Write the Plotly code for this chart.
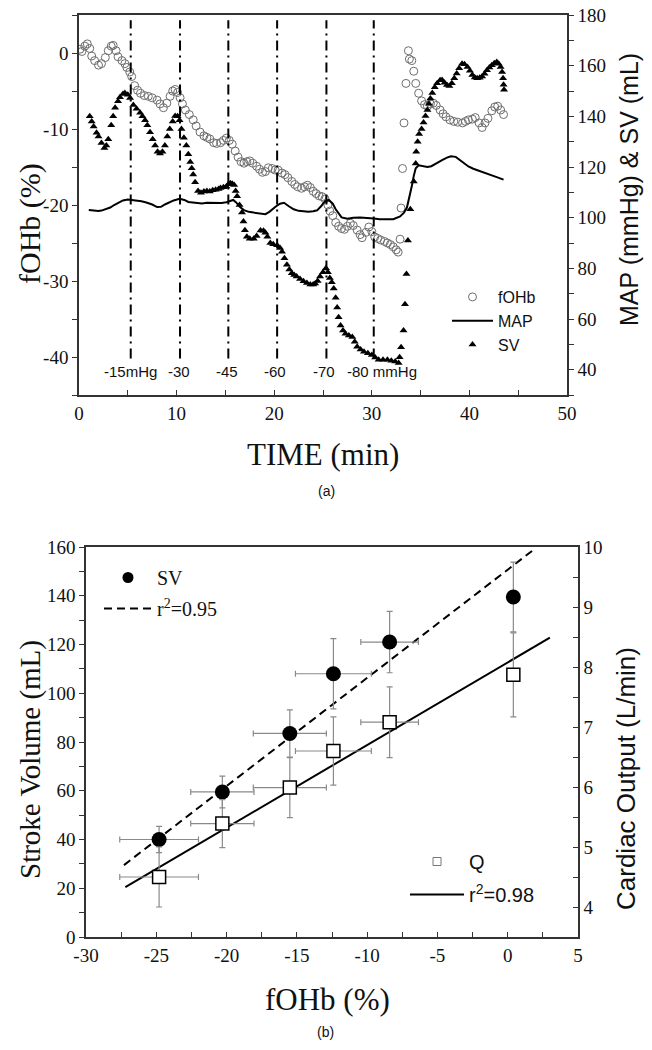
import plotly.graph_objects as go

# ---------------- DATA: panel (a) ----------------
fohb_t = [0.1, 0.3, 0.6, 0.85, 1.1, 1.3, 1.6, 2.0, 2.3, 2.7, 3.0, 3.3, 3.5, 3.8, 4.0, 4.4, 4.7, 4.9,
          5.2, 5.4, 5.7, 6.0, 6.3, 6.7, 7.1, 7.5, 8.0, 8.3, 8.65, 9.0, 9.33, 9.6, 9.85, 10.1, 10.36,
          10.6, 10.9, 11.3, 11.7, 12.0, 12.4, 12.8, 13.1, 13.4, 13.8, 14.1, 14.5, 14.8, 15.1, 15.4,
          15.7, 16.0, 16.3, 16.6, 16.9, 17.2, 17.5, 17.8, 18.2, 18.5, 18.8, 19.1, 19.4, 19.8, 20.1,
          20.4, 20.8, 21.1, 21.4, 21.8, 22.1, 22.4, 22.8, 23.1, 23.4, 23.7, 24.0, 24.3, 24.6, 24.9,
          25.2, 25.5, 25.7, 26.0, 26.3, 26.6, 26.9, 27.2, 27.5, 27.8, 28.1, 28.5, 28.8, 29.0, 29.4,
          29.7, 30.0, 30.3, 30.6, 30.9, 31.3, 31.6, 31.9, 32.2, 32.5, 32.7,
          32.9, 33.0, 33.15, 33.3, 33.5, 33.75, 33.85, 34.1, 34.3, 34.5, 34.8, 35.1, 35.4, 35.7,
          36.0, 36.3, 36.6, 37.0, 37.3, 37.6, 38.0, 38.4, 38.8, 39.3, 39.6, 39.9, 40.3, 40.6, 41.0,
          41.3, 41.6, 41.9, 42.3, 42.6, 42.9, 43.2, 43.5]
fohb_v = [0.5, 0.2, 0.9, 1.2, 0.6, -0.4, -1.0, -1.6, -1.4, -0.6, 0.3, 0.9, 1.0, 0.3, -0.5, -1.0, -1.4, -1.9,
          -2.5, -3.1, -4.3, -4.9, -5.3, -5.6, -5.7, -5.9, -6.2, -6.7, -7.2, -6.6, -5.7, -5.0, -4.8, -5.2, -5.9,
          -6.7, -7.5, -8.1, -8.8, -9.6, -10.4, -10.9, -11.1, -11.3, -11.8, -11.9, -11.8, -11.5, -11.2, -11.5,
          -12.0, -12.9, -13.7, -14.3, -14.5, -14.3, -14.2, -14.5, -14.9, -15.3, -15.7, -15.6, -15.1, -15.2, -15.4,
          -15.4, -15.8, -16.0, -16.4, -16.9, -17.3, -17.6, -17.8, -17.6, -17.4, -17.7, -18.2, -18.5, -18.8, -18.9,
          -19.2, -20.0, -20.8, -21.4, -22.3, -22.8, -23.1, -23.2, -22.8, -22.4, -22.7, -23.3, -23.9, -24.3, -23.6,
          -22.9, -23.5, -24.2, -24.4, -24.6, -24.8, -25.0, -25.2, -25.5, -25.9, -26.2,
          -24.5, -20.4, -15.2, -9.2, -4.0, 0.3, -0.8, -1.0, -2.4, -4.0, -5.3, -6.3, -6.8, -7.0,
          -6.7, -6.6, -6.9, -7.5, -8.0, -8.4, -8.8, -9.0, -9.1, -9.2, -9.0, -8.8, -8.7, -8.5, -9.2,
          -9.8, -9.2, -8.6, -7.6, -7.1, -7.0, -7.5, -8.1]

map_t = [1.0, 1.3, 1.7, 2.0, 2.3, 2.7, 3.2, 3.6, 4.0, 4.5, 5.0, 5.5, 6.0, 6.4, 6.9, 7.5, 8.0, 8.4, 8.8,
         9.2, 9.7, 10.3, 10.8, 11.2, 11.7, 12.2, 12.6, 13.1, 13.6, 14.1, 14.6, 15.1, 15.5, 15.8, 16.1,
         16.5, 16.9, 17.4, 17.9, 18.5, 19.1, 19.5, 19.8, 20.2, 20.6, 21.0, 21.5, 22.0, 22.5, 23.0, 23.5,
         24.0, 24.4, 24.8, 25.2, 25.6, 26.0, 26.3, 26.6, 26.9, 27.5, 28.1, 28.8, 29.5, 30.2, 30.8, 31.5,
         32.2, 32.9, 33.3, 33.6, 33.85, 34.1, 34.3, 34.5, 34.8, 35.2, 35.7, 36.1, 36.6, 37.2, 37.7, 38.1,
         38.6, 39.0, 39.4, 39.9, 40.4, 40.8, 41.5, 42.2, 42.8, 43.5]
map_v = [103.0, 102.8, 102.5, 102.6, 102.8, 103.2, 104.0, 105.0, 105.9, 106.8, 107.2, 107.0, 106.8, 106.5,
         106.0, 105.2, 104.2, 104.3, 105.2, 105.9, 106.8, 107.5, 107.0, 106.2, 105.9, 105.6, 105.6, 105.9,
         105.8, 105.7, 105.8, 106.1, 106.8, 107.0, 106.0, 104.2, 103.0, 102.3, 102.0, 101.6, 101.4, 102.3,
         103.3, 104.5, 105.5, 105.9, 104.5, 103.3, 102.7, 102.4, 102.3, 102.5, 102.9, 104.5, 106.5, 107.0,
         105.5, 103.3, 101.5, 100.1, 99.6, 100.0, 100.1, 100.0, 99.7, 99.4, 99.3, 99.4, 100.5, 102.0, 104.0,
         108.0, 112.5, 116.5, 119.5, 120.7, 120.5, 120.0, 120.3, 121.5, 122.7, 123.7, 124.2, 124.0, 122.8,
         121.4, 120.2, 119.3, 118.8, 117.9, 116.9, 116.0, 115.0]

sv_t = [1.1, 1.3, 1.5, 1.8, 2.0, 2.3, 2.6, 2.8, 3.0, 3.3, 3.5, 3.7, 4.0, 4.2, 4.5, 4.7, 5.0, 5.23, 5.57,
        5.9, 6.26, 6.5, 6.77, 7.0, 7.28, 7.55, 7.8, 8.05, 8.3, 8.55, 8.8, 9.05, 9.3, 9.6, 9.85, 10.1, 10.3,
        10.5, 10.75, 11.0, 11.2, 11.4, 11.55, 11.7, 11.9, 12.2, 12.5, 12.8, 13.1, 13.4, 13.7, 14.0, 14.3,
        14.5, 14.8, 15.1, 15.3, 15.5, 15.7, 15.9, 16.05, 16.2, 16.45, 16.7, 16.85, 17.0, 17.2, 17.5, 17.9,
        18.2, 18.6, 18.9, 19.1, 19.3, 19.6, 19.9, 20.3, 20.6, 20.8, 21.05, 21.3, 21.55, 21.8, 22.05, 22.3,
        22.65, 23.0, 23.35, 23.7, 24.0, 24.2, 24.45, 24.7, 25.0, 25.3, 25.5, 25.7, 25.9, 26.1, 26.3, 26.45,
        26.6, 26.8, 27.05, 27.3, 27.65, 28.0, 28.25, 28.5, 28.85, 29.2, 29.6, 30.0, 30.35, 30.7, 31.15,
        31.6, 32.0, 32.4, 32.75,
        32.85, 33.0, 33.25, 33.4, 33.55, 33.7, 33.95, 34.3, 34.5, 34.55, 34.7, 34.85, 35.1, 35.3, 35.5,
        35.7, 35.85, 36.0, 36.2, 36.45, 36.7, 37.0, 37.2, 37.45, 37.7, 37.95, 38.2, 38.45, 38.7, 38.95,
        39.25, 39.5, 39.8, 40.05, 40.3, 40.55, 40.8, 41.05, 41.3, 41.55, 41.8, 42.05, 42.3, 42.55, 42.8,
        43.0, 43.2, 43.35, 43.45, 43.5, 43.55]
sv_v = [140.0, 138.0, 136.0, 133.5, 132.0, 129.5, 127.5, 128.5, 131.0, 136.5, 140.0, 143.4, 146.0, 147.5,
        148.8, 149.2, 148.5, 147.2, 144.5, 143.0, 141.4, 140.0, 138.5, 136.5, 133.7, 131.0, 128.5, 126.0,
        125.3, 126.0, 128.5, 132.0, 135.0, 138.0, 140.1, 140.0, 138.5, 135.0, 131.5, 128.5, 125.0, 122.0,
        119.5, 117.0, 114.0, 110.5, 109.8, 110.3, 110.5, 110.3, 110.8, 111.0, 111.3, 111.7, 112.0, 112.3,
        113.2, 113.6, 113.4, 112.9, 110.5, 108.5, 105.0, 102.0, 98.5, 95.0, 92.5, 91.7, 91.7, 92.8, 94.9,
        94.8, 94.0, 92.5, 90.0, 89.5, 89.1, 88.0, 86.5, 84.0, 81.4, 79.5, 78.1, 77.4, 76.8, 75.8, 74.9,
        74.2, 73.6, 73.6, 74.0, 75.0, 76.8, 78.5, 80.0, 78.5, 76.2, 74.5, 72.0, 68.4, 64.5, 60.7, 57.4,
        55.5, 54.2, 53.5, 52.9, 51.0, 49.0, 48.0, 47.1, 46.5, 45.8, 44.8, 43.9, 43.9, 43.9, 43.5, 43.2, 42.6,
        44.9, 48.8, 55.5, 65.8, 77.8, 91.0, 103.3, 114.3, 121.4, 126.0, 130.0, 133.0, 135.0, 137.6, 140.1,
        142.5, 145.0, 147.0, 149.2, 151.5, 153.1, 154.2, 154.3, 153.3, 152.4, 152.0, 153.1, 155.0, 156.9,
        159.0, 160.8, 160.6, 159.5, 158.0, 156.3, 155.3, 155.0, 155.2, 155.7, 156.8, 158.2, 159.3, 160.2,
        161.0, 161.4, 160.8, 159.5, 157.5, 155.0, 152.5, 150.5]

pressure_t = [5.3, 10.35, 15.3, 20.3, 25.35, 30.2]
pressure_label_t = [5.3, 10.25, 15.2, 20.1, 25.1, 31.0]
pressure_labels = ["-15mHg", "-30", "-45", "-60", "-70", "-80 mmHg"]

time_ticks = [0, 10, 20, 30, 40, 50]
time_tick_text = ["0", "10", "20", "30", "40", "50"]
fohb_ticks = [0, -10, -20, -30, -40]
fohb_tick_text = ["0", "-10", "-20", "-30", "-40"]

# ---------------- DATA: panel (b) ----------------
fohb_mean = [-24.8, -20.3, -15.5, -12.4, -8.4, 0.4]
fohb_err = [2.8, 2.25, 2.6, 2.7, 2.05, 0.0]
sv_mean = [40.0, 59.5, 83.5, 108.0, 121.0, 139.5]
sv_err = [5.4, 6.5, 9.7, 14.4, 12.6, 14.3]
q_mean = [4.5, 5.39, 5.99, 6.6, 7.08, 7.87]
q_err = [0.5, 0.4, 0.5, 0.57, 0.59, 0.7]
sv_fit_x = [-27.3, 1.8]
sv_fit_y = [29.5, 158.7]
q_fit_x = [-27.2, 3.0]
q_fit_y = [4.33, 8.49]

b_x_ticks = [-30, -25, -20, -15, -10, -5, 0, 5]
b_x_tick_text = ["-30", "-25", "-20", "-15", "-10", "-5", "0", "5"]

# ---------------- LAYOUT HELPERS ----------------
# the page body has an 8px margin: the figure is sized to fit the window inside it
OFF = 8
W, H = 652 - 2 * OFF, 1050 - 2 * OFF
def fx(px):
    return (px - OFF) / W
def fy(py):
    return 1 - (py - OFF) / H

SERIF = "Liberation Serif"
SANS = "Liberation Sans"
AX = "#333333"
ERR = "#8a8a8a"

fig = go.Figure()

# panel (a)
fig.add_trace(go.Scatter(x=fohb_t, y=fohb_v, mode="markers", name="fOHb",
                         marker=dict(symbol="circle-open", size=8, color="#6e6e6e", line=dict(width=1)),
                         xaxis="x", yaxis="y", legend="legend", legendgroup="a1"))
fig.add_trace(go.Scatter(x=map_t, y=map_v, mode="lines", name="MAP",
                         line=dict(color="black", width=2),
                         xaxis="x", yaxis="y2", legend="legend", legendgroup="a2"))
fig.add_trace(go.Scatter(x=sv_t, y=sv_v, mode="markers", name="SV",
                         marker=dict(symbol="triangle-up", size=7, color="black"),
                         xaxis="x", yaxis="y2", legend="legend", legendgroup="a3"))

# panel (b)
fig.add_trace(go.Scatter(x=sv_fit_x, y=sv_fit_y, mode="lines", showlegend=False,
                         line=dict(color="black", width=2, dash="8px,5px"),
                         xaxis="x2", yaxis="y3"))
fig.add_trace(go.Scatter(x=q_fit_x, y=q_fit_y, mode="lines", showlegend=False,
                         line=dict(color="black", width=2),
                         xaxis="x2", yaxis="y4"))
fig.add_trace(go.Scatter(x=fohb_mean, y=sv_mean, mode="markers", showlegend=False,
                         marker=dict(symbol="circle", size=15, color="black"),
                         error_x=dict(type="data", array=fohb_err, color=ERR, thickness=1.2, width=3),
                         error_y=dict(type="data", array=sv_err, color=ERR, thickness=1.2, width=3),
                         xaxis="x2", yaxis="y3"))
fig.add_trace(go.Scatter(x=fohb_mean, y=q_mean, mode="markers", showlegend=False,
                         marker=dict(symbol="square", size=13, color="white", line=dict(color="black", width=1.5)),
                         error_x=dict(type="data", array=fohb_err, color=ERR, thickness=1.2, width=3),
                         error_y=dict(type="data", array=q_err, color=ERR, thickness=1.2, width=3),
                         xaxis="x2", yaxis="y4"))

# legend proxies for panel (b)
fig.add_trace(go.Scatter(x=[None], y=[None], mode="markers", name="SV",
                         marker=dict(symbol="circle", size=11, color="black"),
                         xaxis="x2", yaxis="y3", legend="legend2", legendgroup="b1"))
fig.add_trace(go.Scatter(x=[None], y=[None], mode="lines", name="r<sup>2</sup>=0.95",
                         line=dict(color="black", width=2, dash="8px,5px"),
                         xaxis="x2", yaxis="y3", legend="legend2", legendgroup="b2"))
fig.add_trace(go.Scatter(x=[None], y=[None], mode="markers", name="Q",
                         marker=dict(symbol="square-open", size=8, color="#777777", line=dict(width=1)),
                         xaxis="x2", yaxis="y4", legend="legend3", legendgroup="c1"))
fig.add_trace(go.Scatter(x=[None], y=[None], mode="lines", name="r<sup>2</sup>=0.98",
                         line=dict(color="black", width=2),
                         xaxis="x2", yaxis="y4", legend="legend3", legendgroup="c2"))

tickfont = dict(family=SERIF, size=19, color="#111")
common = dict(showgrid=False, zeroline=False, showline=True, linecolor=AX, linewidth=1.5,
              tickcolor=AX, tickwidth=1.3, ticklen=5, tickfont=tickfont, automargin=False,
              ticklabeloverflow="allow")

shapes = []
for t in pressure_t:
    shapes.append(dict(type="line", xref="x", yref="y", x0=t, x1=t, y0=-40.2, y1=4.3,
                       line=dict(color="black", width=2, dash="10px,5px,2px,5px")))

annotations = []
for t, lab in zip(pressure_label_t, pressure_labels):
    annotations.append(dict(x=t, y=-41.9, xref="x", yref="y", text=lab, showarrow=False,
                            font=dict(family=SANS, size=15, color="#111")))

def title(text, x, y, fam, size, angle=0):
    return dict(x=fx(x), y=fy(y), xref="paper", yref="paper", text=text, showarrow=False,
                textangle=angle, font=dict(family=fam, size=size, color="#111"),
                xanchor="center", yanchor="middle", borderpad=0)

annotations += [
    title("fOHb (%)", 30, 224, SERIF, 30, -90),
    title("MAP (mmHg) &amp; SV (mL)", 629, 190, SANS, 25, -90),
    title("TIME (min)", 323, 455, SERIF, 31),
    title("(a)", 326, 491, SANS, 14),
    title("Stroke Volume (mL)", 30, 760, SERIF, 29, -90),
    title("Cardiac Output (L/min)", 626, 779, SANS, 26, -90),
    title("fOHb (%)", 327, 999, SERIF, 31),
    title("(b)", 325, 1032, SANS, 14),
]

fig.update_layout(
    template="none",
    width=W, height=H, margin=dict(l=0, r=0, t=0, b=0, autoexpand=False),
    paper_bgcolor="white", plot_bgcolor="white",
    xaxis=dict(domain=[fx(79), fx(567)], range=[0, 50], tickmode="array", tickvals=time_ticks,
               ticktext=time_tick_text, ticks="inside",
               minor=dict(dtick=5, tick0=0, ticks="inside", ticklen=5, tickcolor=AX), mirror=True,
               anchor="y", **common),
    yaxis=dict(domain=[fy(395), fy(15)], range=[-45, 5], tickmode="array", tickvals=fohb_ticks,
               ticktext=fohb_tick_text, ticks="outside",
               minor=dict(dtick=5, tick0=0, ticks="outside", ticklen=5, tickcolor=AX), anchor="x", **common),
    yaxis2=dict(range=[30, 180], dtick=20, tick0=40, ticks="outside", side="right", overlaying="y",
                minor=dict(dtick=10, ticks="outside", ticklen=5, tickcolor=AX), anchor="x", **common),
    xaxis2=dict(domain=[fx(86), fx(578)], range=[-30, 5], tickmode="array", tickvals=b_x_ticks,
                ticktext=b_x_tick_text, ticks="inside",
                minor=dict(dtick=2.5, tick0=0, ticks="inside", ticklen=5, tickcolor=AX), mirror=True,
                anchor="y3", **common),
    yaxis3=dict(domain=[fy(937), fy(547)], range=[0, 160], dtick=20, tick0=0, ticks="outside",
                minor=dict(dtick=10, ticks="outside", ticklen=5, tickcolor=AX), anchor="x2", **common),
    yaxis4=dict(range=[3.5, 10], dtick=1, tick0=4, ticks="inside", side="right", overlaying="y3",
                minor=dict(dtick=0.5, ticks="inside", ticklen=5, tickcolor=AX), anchor="x2", **common),
    legend=dict(x=fx(447), y=fy(280), xanchor="left", yanchor="top", bgcolor="rgba(0,0,0,0)",
                font=dict(family=SANS, size=16, color="#111"), itemwidth=41, tracegroupgap=0,
                itemsizing="trace"),
    legend2=dict(x=fx(99), y=fy(558), xanchor="left", yanchor="top", bgcolor="rgba(0,0,0,0)",
                 font=dict(family=SERIF, size=20, color="#111"), itemwidth=48, tracegroupgap=2,
                 itemsizing="trace"),
    legend3=dict(x=fx(405), y=fy(842), xanchor="left", yanchor="top", bgcolor="rgba(0,0,0,0)",
                 font=dict(family=SANS, size=20, color="#111"), itemwidth=54, tracegroupgap=4,
                 itemsizing="trace"),
    shapes=shapes, annotations=annotations,
)

fig.write_html("out.html")
